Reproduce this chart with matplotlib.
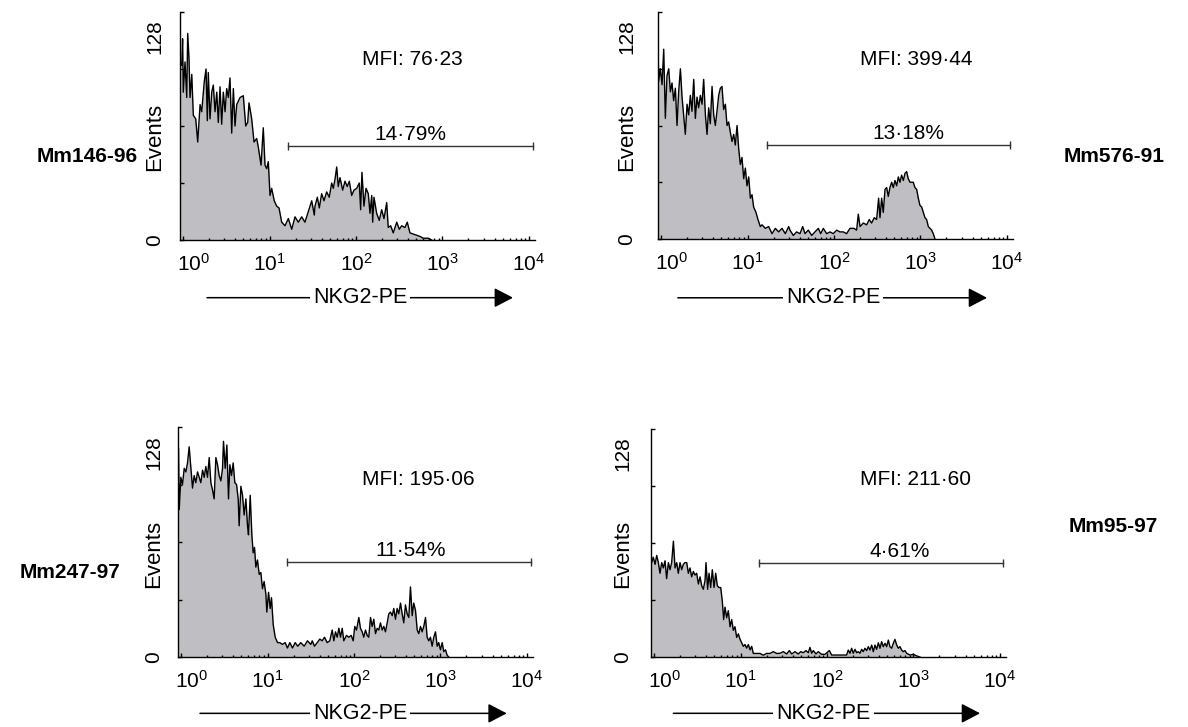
import numpy as np
import matplotlib
matplotlib.use('Agg')
import matplotlib.pyplot as plt
from matplotlib.ticker import LogLocator, NullFormatter

plt.rcParams['font.family'] = ['Liberation Sans', 'DejaVu Sans']
plt.rcParams['mathtext.fontset'] = 'custom'
plt.rcParams['mathtext.rm'] = 'Liberation Sans'
plt.rcParams['mathtext.it'] = 'Liberation Sans:italic'
plt.rcParams['mathtext.bf'] = 'Liberation Sans:bold'

# sample names, MFI and gate percentages
samples = ['Mm146-96', 'Mm576-91', 'Mm247-97', 'Mm95-97']
mfi = ['76·23', '399·44', '195·06', '211·60']
gate_pct = ['14·79%', '13·18%', '11·54%', '4·61%']
gate_start = [16.5, 16.7, 16.9, 16.5]
gate_end = [11000, 10800, 11000, 10900]
gate_level = 53

# histograms: log10 fluorescence vs events
tl_log = [-0.035, -0.015, -0.005, 0.003, 0.023, 0.043, 0.054, 0.069, 0.081, 0.101,
          0.119, 0.147, 0.170, 0.197, 0.216, 0.246, 0.266, 0.281, 0.292, 0.312,
          0.332, 0.350, 0.370, 0.390, 0.408, 0.428, 0.447, 0.466, 0.486, 0.505,
          0.524, 0.543, 0.563, 0.582, 0.601, 0.621, 0.659, 0.697, 0.725, 0.748,
          0.763, 0.794, 0.821, 0.852, 0.871, 0.902, 0.928, 0.948, 0.968, 0.986,
          1.006, 1.025, 1.055, 1.083, 1.110, 1.141, 1.179, 1.218, 1.257, 1.295,
          1.333, 1.372, 1.410, 1.449, 1.488, 1.518, 1.526, 1.553, 1.576, 1.603,
          1.630, 1.661, 1.691, 1.719, 1.738, 1.757, 1.777, 1.795, 1.815, 1.846,
          1.873, 1.899, 1.923, 1.950, 1.977, 2.008, 2.038, 2.054, 2.069, 2.092,
          2.116, 2.142, 2.162, 2.182, 2.193, 2.208, 2.239, 2.269, 2.297, 2.324,
          2.355, 2.373, 2.401, 2.431, 2.471, 2.501, 2.528, 2.566, 2.593, 2.624,
          2.682, 2.740, 2.778, 2.836, 2.875]
tl_events = [100, 98, 113, 83, 100, 80, 116, 102, 80, 93,
             70, 68, 55, 76, 72, 89, 96, 67, 94, 68,
             83, 87, 72, 83, 66, 86, 65, 83, 72, 85,
             80, 91, 60, 85, 64, 76, 80, 81, 64, 66,
             77, 68, 55, 57, 52, 42, 63, 42, 40, 44,
             25, 29, 22, 19, 18, 10, 8, 12, 6, 13,
             10, 13, 10, 16, 22, 14, 19, 24, 18, 26,
             22, 27, 24, 32, 29, 34, 41, 30, 35, 28,
             33, 30, 33, 25, 28, 29, 32, 17, 38, 19,
             29, 26, 15, 25, 10, 24, 15, 11, 17, 12,
             21, 7, 8, 4, 10, 6, 8, 7, 10, 4,
             3, 2, 1, 1, 0]

tr_log = [-0.035, -0.027, -0.008, 0.012, 0.031, 0.050, 0.069, 0.089, 0.108, 0.127,
          0.146, 0.166, 0.185, 0.204, 0.224, 0.243, 0.281, 0.301, 0.320, 0.339,
          0.358, 0.378, 0.397, 0.416, 0.435, 0.455, 0.474, 0.493, 0.513, 0.532,
          0.551, 0.570, 0.590, 0.609, 0.628, 0.647, 0.667, 0.686, 0.705, 0.724,
          0.744, 0.763, 0.782, 0.802, 0.821, 0.840, 0.859, 0.879, 0.898, 0.917,
          0.936, 0.956, 0.975, 0.994, 1.014, 1.033, 1.052, 1.071, 1.098, 1.121,
          1.148, 1.168, 1.206, 1.245, 1.283, 1.322, 1.360, 1.399, 1.437, 1.476,
          1.491, 1.530, 1.568, 1.607, 1.638, 1.665, 1.703, 1.742, 1.780, 1.819,
          1.846, 1.877, 1.915, 1.954, 1.992, 2.031, 2.069, 2.108, 2.146, 2.185,
          2.231, 2.262, 2.281, 2.301, 2.339, 2.378, 2.408, 2.435, 2.466, 2.493,
          2.516, 2.532, 2.551, 2.570, 2.590, 2.609, 2.628, 2.647, 2.667, 2.686,
          2.705, 2.725, 2.744, 2.763, 2.782, 2.802, 2.821, 2.840, 2.859, 2.879,
          2.898, 2.917, 2.936, 2.956, 2.975, 2.994, 3.014, 3.033, 3.052, 3.071,
          3.091, 3.110, 3.129, 3.148, 3.168]
tr_events = [109, 89, 96, 87, 107, 68, 92, 96, 83, 88,
             78, 85, 64, 83, 96, 80, 59, 76, 70, 81,
             72, 90, 68, 80, 74, 81, 76, 90, 70, 59,
             74, 65, 86, 70, 64, 72, 81, 85, 86, 73,
             76, 64, 66, 60, 55, 59, 53, 64, 51, 42,
             46, 34, 40, 30, 35, 23, 25, 18, 15, 11,
             7, 8, 6, 7, 3, 6, 4, 6, 3, 7,
             5, 2, 4, 3, 7, 3, 5, 2, 4, 6,
             3, 6, 3, 4, 3, 5, 4, 4, 3, 6,
             6, 5, 14, 7, 9, 8, 11, 9, 12, 11,
             23, 12, 23, 15, 28, 29, 24, 29, 32, 29,
             33, 30, 35, 32, 36, 33, 37, 38, 34, 32,
             32, 32, 29, 28, 23, 19, 18, 15, 12, 11,
             7, 6, 5, 3, 0]

bl_log = [-0.029, -0.021, -0.002, 0.017, 0.037, 0.056, 0.075, 0.094, 0.114, 0.133,
          0.152, 0.171, 0.191, 0.210, 0.229, 0.249, 0.268, 0.287, 0.306, 0.326,
          0.345, 0.364, 0.383, 0.403, 0.422, 0.441, 0.461, 0.480, 0.491, 0.511,
          0.530, 0.549, 0.565, 0.584, 0.603, 0.622, 0.642, 0.661, 0.672, 0.692,
          0.711, 0.730, 0.750, 0.769, 0.780, 0.800, 0.819, 0.834, 0.850, 0.865,
          0.884, 0.904, 0.923, 0.942, 0.961, 0.981, 0.992, 1.012, 1.031, 1.046,
          1.066, 1.089, 1.116, 1.142, 1.173, 1.204, 1.231, 1.258, 1.289, 1.320,
          1.350, 1.385, 1.424, 1.462, 1.501,
          1.517, 1.543, 1.575, 1.605, 1.632, 1.659, 1.690, 1.720, 1.748, 1.767,
          1.786, 1.806, 1.825, 1.844, 1.864, 1.882, 1.913, 1.940, 1.968, 1.991,
          2.009, 2.029, 2.056, 2.075, 2.095, 2.113, 2.133, 2.153, 2.171, 2.191,
          2.210, 2.229, 2.249, 2.268, 2.287, 2.306, 2.326, 2.345, 2.364, 2.384,
          2.402, 2.422, 2.442, 2.460, 2.480, 2.499, 2.518, 2.538, 2.557, 2.576,
          2.595, 2.615, 2.634, 2.653, 2.673, 2.691, 2.711, 2.731, 2.749, 2.769,
          2.788, 2.807, 2.827, 2.846, 2.865, 2.884, 2.904, 2.923, 2.942, 2.962,
          2.980, 3.000, 3.020, 3.038, 3.058, 3.077, 3.096]
bl_events = [116, 82, 100, 96, 105, 103, 108, 117, 105, 94,
             101, 97, 103, 100, 97, 104, 100, 106, 100, 111,
             97, 93, 88, 111, 107, 101, 98, 105, 120, 105,
             118, 88, 107, 101, 108, 97, 96, 88, 73, 95,
             90, 79, 88, 73, 68, 90, 68, 58, 61, 50,
             54, 46, 47, 38, 42, 35, 25, 36, 27, 33,
             18, 11, 8, 8, 7, 8, 5, 8, 5, 8,
             6, 8, 6, 9, 7,
             9, 6, 8, 10, 9, 11, 8, 9, 15, 9,
             14, 11, 16, 11, 16, 9, 12, 11, 12, 9,
             17, 15, 22, 16, 14, 11, 15, 12, 11, 22,
             17, 21, 13, 16, 15, 19, 15, 17, 14, 19,
             24, 25, 23, 27, 21, 27, 24, 30, 24, 19,
             29, 24, 22, 39, 23, 30, 26, 15, 13, 17,
             14, 17, 22, 11, 9, 11, 6, 11, 14, 6,
             8, 4, 8, 3, 4, 1, 0]

br_log = [-0.035, -0.027, -0.008, 0.012, 0.031, 0.050, 0.069, 0.089, 0.108, 0.127,
          0.146, 0.166, 0.185, 0.204, 0.224, 0.243, 0.262, 0.281, 0.301, 0.320,
          0.339, 0.358, 0.378, 0.397, 0.416, 0.435, 0.455, 0.474, 0.493, 0.513,
          0.532, 0.551, 0.570, 0.590, 0.601, 0.620, 0.636, 0.655, 0.674, 0.694,
          0.713, 0.732, 0.751, 0.771, 0.790, 0.805, 0.821, 0.840, 0.859, 0.879,
          0.898, 0.917, 0.936, 0.956, 0.975, 0.994, 1.014, 1.033, 1.052, 1.071,
          1.091, 1.110, 1.129, 1.148, 1.187, 1.225, 1.264, 1.302, 1.341, 1.379,
          1.418,
          1.457, 1.495, 1.534, 1.564, 1.592, 1.630, 1.668, 1.696, 1.726, 1.757,
          1.784, 1.803, 1.823, 1.842, 1.873, 1.899, 1.938, 1.977, 2.027, 2.054,
          2.112, 2.189, 2.227, 2.246, 2.266, 2.285, 2.304, 2.324, 2.343, 2.362,
          2.382, 2.401, 2.420, 2.439, 2.459, 2.478, 2.497, 2.517, 2.536, 2.555,
          2.574, 2.594, 2.613, 2.632, 2.651, 2.671, 2.690, 2.709, 2.728, 2.748,
          2.767, 2.786, 2.806, 2.825, 2.844, 2.863, 2.882, 2.902, 2.921, 2.960,
          2.998, 3.037, 3.075]
br_events = [60, 53, 56, 52, 57, 53, 47, 53, 50, 54,
             44, 53, 49, 53, 65, 50, 53, 47, 53, 49,
             52, 53, 53, 47, 50, 45, 48, 46, 47, 41,
             45, 40, 38, 43, 53, 38, 47, 39, 49, 39,
             47, 40, 39, 39, 31, 21, 28, 22, 26, 17,
             21, 15, 17, 11, 13, 10, 8, 6, 7, 5,
             7, 4, 6, 2, 2, 2, 1, 2, 2, 3,
             2,
             2.1, 3.0, 1.7, 3.6, 1.7, 3.0, 1.7, 3.0, 2.4, 3.6,
             2.4, 5.4, 2.1, 3.6, 1.7, 3.0, 1.5, 1.5, 3.6, 1.1,
             1.1, 1.1, 1.1, 3.9, 2.1, 4.9, 2.1, 4.3, 2.4, 3.0,
             2.1, 4.3, 3.0, 4.9, 3.6, 5.8, 3.9, 6.7, 3.0, 6.7,
             4.3, 8.0, 4.9, 8.6, 5.8, 7.7, 5.8, 9.5, 5.8, 4.9,
             7.7, 9.9, 6.7, 4.9, 5.8, 3.9, 3.0, 3.6, 2.1, 1.1,
             1.5, 0.6, 0]

logs = [tl_log, tr_log, bl_log, br_log]
events = [tl_events, tr_events, bl_events, br_events]

# layout (pixels of the 1188x727 canvas)
W, H = 1188, 727
axes_px = [(180, 12, 355, 228), (658, 12, 355, 227), (178, 427, 355, 230), (651, 429, 355, 228)]
name_px = [(87, 157), (1114, 157), (70, 573), (1113, 526)]
ylab_off = [25, 31, 24, 28]
mfi_pos = [(0.654, 0.768), (0.727, 0.767), (0.676, 0.748), (0.746, 0.754)]
pct_x = [0.648, 0.704, 0.654, 0.701]
arrow_pos = [(0.076, 0.938, 0.507, -0.253), (0.056, 0.927, 0.493, -0.259),
             (0.062, 0.926, 0.513, -0.245), (0.063, 0.927, 0.485, -0.247)]

px = 72 / 100  # points per pixel
fill_col = '#bfbfc3'

fig = plt.figure(figsize=(W / 100, H / 100), dpi=100)

for i in range(4):
    l, t, w, h = axes_px[i]
    ax = fig.add_axes([l / W, 1 - (t + h) / H, w / W, h / H])
    x = 10 ** np.array(logs[i])
    y = np.array(events[i])
    ax.fill_between(x, y, 0, color=fill_col, lw=0)
    ax.plot(x, y, color='black', lw=1.0)

    ax.set_xscale('log')
    ax.set_xlim(10 ** -0.035, 10 ** 4.07)
    ax.set_ylim(0, 128)
    ax.spines['top'].set_visible(False)
    ax.spines['right'].set_visible(False)
    ax.spines['left'].set_linewidth(1.0)
    ax.spines['bottom'].set_linewidth(1.0)

    ax.set_xticks([1, 10, 100, 1000, 10000])
    ax.set_xticklabels([])
    ax.xaxis.set_minor_locator(LogLocator(base=10, subs=np.arange(2, 10), numticks=20))
    ax.xaxis.set_minor_formatter(NullFormatter())
    ax.tick_params(axis='x', which='major', direction='in', length=3, width=1)
    ax.tick_params(axis='x', which='minor', direction='in', length=1.8, width=1)
    ax.set_yticks([0, 32, 64, 96, 128])
    ax.set_yticklabels([])
    ax.tick_params(axis='y', direction='in', length=3, width=1)

    # decade labels
    for k in range(5):
        lab = r'$\mathregular{10^{%d}}$' % k
        if k == 0:
            ax.annotate(lab, xy=(0, 0), xycoords='axes fraction', xytext=(-3 * px, -31 * px),
                        textcoords='offset points', ha='left', va='baseline', fontsize=15)
        else:
            ax.annotate(lab, xy=(10 ** k, 0), xycoords=('data', 'axes fraction'),
                        xytext=(0, -31 * px), textcoords='offset points',
                        ha='center', va='baseline', fontsize=15)

    # y-axis texts
    off = -ylab_off[i] * px
    ax.annotate('128', xy=(0, 0.89), xycoords='axes fraction', xytext=(off, 0),
                textcoords='offset points', rotation=90, ha='center', va='center', fontsize=15)
    ax.annotate('0', xy=(0, 0), xycoords='axes fraction', xytext=(off, 0),
                textcoords='offset points', rotation=90, ha='center', va='center', fontsize=15)
    ax.annotate('Events', xy=(0, 0.45), xycoords='axes fraction', xytext=(off, 0),
                textcoords='offset points', rotation=90, ha='center', va='center', fontsize=16)

    # MFI
    ax.text(mfi_pos[i][0], mfi_pos[i][1], 'MFI: ' + mfi[i], transform=ax.transAxes,
            ha='center', va='baseline', fontsize=15)

    # marker gate
    ax.plot([gate_start[i], gate_end[i]], [gate_level, gate_level], color='#333333', lw=1.0,
            marker='|', ms=6, mew=1.0, clip_on=False)
    ax.annotate(gate_pct[i], xy=(pct_x[i], gate_level), xycoords=('axes fraction', 'data'),
                xytext=(0, 6 * px), textcoords='offset points', ha='center', va='baseline',
                fontsize=15)

    # axis arrow with label
    a0, a1, tx, ay = arrow_pos[i]
    ax.annotate('', xy=(a1, ay), xytext=(a0, ay), xycoords='axes fraction',
                arrowprops=dict(arrowstyle='-|>,head_length=1.15,head_width=0.6',
                                mutation_scale=10, lw=1.1, color='black',
                                shrinkA=0, shrinkB=0))
    ax.text(tx, ay, 'NKG2-PE', transform=ax.transAxes, ha='center', va='center', fontsize=15.5,
            bbox=dict(boxstyle='square,pad=0.15', fc='white', ec='none'))

    # sample name
    nx, ny = name_px[i]
    fig.text(nx / W, 1 - ny / H, samples[i], ha='center', va='center', fontsize=15,
             fontweight='bold')

fig.savefig('out.png', dpi=100)
